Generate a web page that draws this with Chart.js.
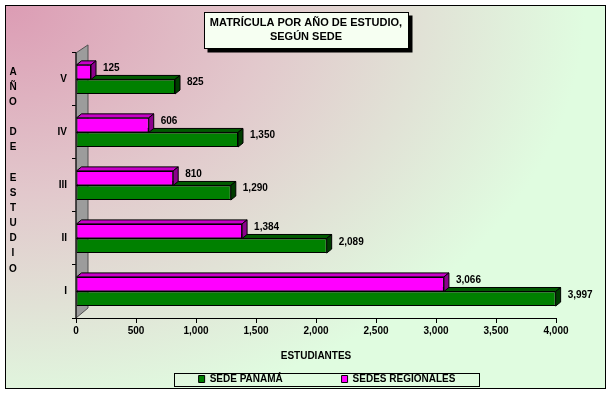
<!DOCTYPE html>
<html>
<head>
<meta charset="utf-8">
<script src="https://cdn.jsdelivr.net/npm/chart.js@4.4.0/dist/chart.umd.min.js"></script>
<style>
  html, body { margin: 0; padding: 0; background: #fff; }
  canvas { display: block; }
</style>
</head>
<body>
<canvas id="chart" width="612" height="394"></canvas>
<script>
// data
const years = ['V', 'IV', 'III', 'II', 'I'];
const sedePanama = [825, 1350, 1290, 2089, 3997];
const sedesRegionales = [125, 606, 810, 1384, 3066];
const titleLines = ['MATRÍCULA POR AÑO DE ESTUDIO,', 'SEGÚN SEDE'];
const yTitleLetters = ['A', 'Ñ', 'O', '', 'D', 'E', '', 'E', 'S', 'T', 'U', 'D', 'I', 'O'];
const xTitle = 'ESTUDIANTES';
const xMax = 4000;
const xStep = 500;

const FONT = 'Arial, "Liberation Sans", sans-serif';
const boldFont = (size) => ({ family: FONT, size: size, weight: 'bold' });
const DEPTH_X = 5, DEPTH_Y = 4;
const faceColors = {
  '#ff00ff': { top: '#c800c8', side: '#8c008c' },
  '#008000': { top: '#005a00', side: '#003c00' }
};

// background, frame and title box
const backdrop = {
  id: 'backdrop',
  beforeDraw(chart) {
    const ctx = chart.ctx;
    ctx.save();
    ctx.fillStyle = '#fff';
    ctx.fillRect(0, 0, chart.width, chart.height);

    ctx.save();
    ctx.beginPath();
    ctx.rect(5, 5, 600, 384);
    ctx.clip();
    ctx.translate(5, 5);
    ctx.scale(1, 0.72);
    const g = ctx.createRadialGradient(0, 0, 0, 0, 0, 580);
    g.addColorStop(0, '#dc9cb4');
    g.addColorStop(0.45, '#e2c8cc');
    g.addColorStop(1, '#e0fce0');
    ctx.fillStyle = g;
    ctx.fillRect(0, 0, 610, 560);
    ctx.restore();

    ctx.strokeStyle = '#000';
    ctx.lineWidth = 1;
    ctx.strokeRect(5.5, 5.5, 600, 383);

    const t = chart.titleBlock;
    ctx.font = 'bold 11px ' + FONT;
    const w = Math.round(Math.max(...titleLines.map(s => ctx.measureText(s).width)) + 12);
    const cx = (t.left + t.right) / 2;
    const bx = Math.round(cx - w / 2) + 0.5, by = 12.5, bh = 36;
    ctx.fillStyle = '#000';
    ctx.fillRect(bx + 3, by + 3, w + 1, bh + 1);
    ctx.fillStyle = '#f6fff2';
    ctx.fillRect(bx, by, w, bh);
    ctx.strokeRect(bx, by, w, bh);
    ctx.restore();
  },
  afterLayout(chart) {
    // legend sits a little right of the middle
    chart.legend.left += 42;
  },
  beforeDatasetsDraw(chart) {
    // grey 3D wall along the category axis
    const ctx = chart.ctx;
    const { left, top, bottom } = chart.chartArea;
    ctx.save();
    ctx.beginPath();
    ctx.moveTo(left, bottom);
    ctx.lineTo(left + 12, bottom - 10);
    ctx.lineTo(left + 12, top - 8);
    ctx.lineTo(left, top);
    ctx.closePath();
    ctx.fillStyle = '#9c9c9c';
    ctx.fill();
    ctx.strokeStyle = '#505050';
    ctx.lineWidth = 1;
    ctx.stroke();
    ctx.beginPath();
    ctx.moveTo(left, top);
    ctx.lineTo(left, bottom);
    ctx.strokeStyle = '#000';
    ctx.stroke();
    ctx.restore();
  },
  afterDatasetDraw(chart, args) {
    // top and side faces of each bar
    const ctx = chart.ctx;
    const ds = chart.data.datasets[args.index];
    const fc = faceColors[ds.backgroundColor];
    ctx.save();
    ctx.strokeStyle = '#000';
    ctx.lineWidth = 1;
    args.meta.data.forEach(bar => {
      const p = bar.getProps(['x', 'y', 'base', 'height'], true);
      const l = Math.min(p.base, p.x), r = Math.max(p.base, p.x);
      const t = p.y - p.height / 2, b = p.y + p.height / 2;
      ctx.beginPath();
      ctx.moveTo(l, t);
      ctx.lineTo(l + DEPTH_X, t - DEPTH_Y);
      ctx.lineTo(r + DEPTH_X, t - DEPTH_Y);
      ctx.lineTo(r, t);
      ctx.closePath();
      ctx.fillStyle = fc.top;
      ctx.fill();
      ctx.stroke();
      ctx.beginPath();
      ctx.moveTo(r, t);
      ctx.lineTo(r + DEPTH_X, t - DEPTH_Y);
      ctx.lineTo(r + DEPTH_X, b - DEPTH_Y);
      ctx.lineTo(r, b);
      ctx.closePath();
      ctx.fillStyle = fc.side;
      ctx.fill();
      ctx.stroke();
    });
    ctx.restore();
  },
  afterDatasetsDraw(chart) {
    // value labels
    const ctx = chart.ctx;
    ctx.save();
    ctx.font = 'bold 10px ' + FONT;
    ctx.fillStyle = '#000';
    ctx.textAlign = 'left';
    ctx.textBaseline = 'middle';
    chart.data.datasets.forEach((ds, i) => {
      chart.getDatasetMeta(i).data.forEach((bar, j) => {
        const p = bar.getProps(['x', 'y'], true);
        ctx.fillText(ds.data[j].toLocaleString('en-US'), p.x + DEPTH_X + 7, p.y - 4);
      });
    });
    ctx.restore();
  },
  afterDraw(chart) {
    const ctx = chart.ctx;
    ctx.save();
    // stacked letters of the category axis title
    ctx.font = 'bold 10px ' + FONT;
    ctx.fillStyle = '#000';
    ctx.textAlign = 'center';
    ctx.textBaseline = 'middle';
    const top = chart.chartArea.top;
    yTitleLetters.forEach((ch, i) => {
      if (ch) ctx.fillText(ch, 13, top + 19 + i * 15.15);
    });
    // legend frame
    const hb = chart.legend.legendHitBoxes;
    if (hb && hb.length) {
      const first = hb[0], last = hb[hb.length - 1];
      const x0 = Math.round(first.left - 25) + 0.5;
      const x1 = Math.round(last.left + last.width + 24) + 0.5;
      const cy = first.top + first.height / 2;
      const y0 = Math.round(cy - 6) + 0.5;
      ctx.strokeStyle = '#000';
      ctx.lineWidth = 1;
      ctx.strokeRect(x0, y0, x1 - x0, 13);
    }
    ctx.restore();
  }
};

new Chart(document.getElementById('chart'), {
  type: 'bar',
  data: {
    labels: years,
    datasets: [
      { label: 'SEDES REGIONALES', data: sedesRegionales, backgroundColor: '#ff00ff',
        borderColor: '#000', borderWidth: 1, borderSkipped: false },
      { label: 'SEDE PANAMÁ', data: sedePanama, backgroundColor: '#008000',
        borderColor: '#000', borderWidth: 1, borderSkipped: false }
    ]
  },
  options: {
    indexAxis: 'y',
    responsive: false,
    animation: false,
    layout: { padding: 0 },
    datasets: { bar: { categoryPercentage: 0.55, barPercentage: 1 } },
    scales: {
      x: {
        min: 0,
        max: xMax,
        ticks: { stepSize: xStep, color: '#000', font: boldFont(10), padding: 2 },
        grid: { drawOnChartArea: false, color: '#000', tickLength: 5 },
        border: { display: true, color: '#000' },
        title: { display: true, text: xTitle, color: '#000', font: boldFont(10), padding: { top: 11, bottom: 6 } },
        afterFit(scale) { scale.paddingRight = 56; }
      },
      y: {
        ticks: { color: '#000', font: boldFont(10), padding: 5 },
        grid: { offset: true, drawOnChartArea: false, color: '#000', tickLength: 4 },
        border: { display: true, color: '#000' },
        afterFit(scale) { scale.width = 76; }
      }
    },
    plugins: {
      title: {
        display: true,
        text: titleLines,
        color: '#000',
        font: { family: FONT, size: 11, weight: 'bold', lineHeight: 1.36 },
        padding: { top: 15, bottom: 8 }
      },
      legend: {
        position: 'bottom',
        reverse: true,
        labels: {
          boxWidth: 6,
          boxHeight: 7,
          padding: 6,
          color: '#000',
          font: boldFont(10),
          generateLabels(chart) {
            const items = Chart.defaults.plugins.legend.labels.generateLabels(chart);
            items.forEach(it => {
              if (it.datasetIndex === 1) it.text += '\u2003\u2003\u2003\u2003\u2003 ';
            });
            return items;
          }
        }
      },
      tooltip: { enabled: false }
    }
  },
  plugins: [backdrop]
});
</script>
</body>
</html>
